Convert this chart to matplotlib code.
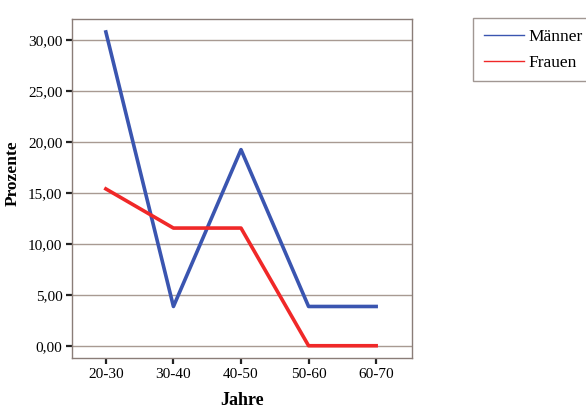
import matplotlib
matplotlib.use("Agg")
import matplotlib.pyplot as plt
from matplotlib.lines import Line2D

# Data
categories = ["20-30", "30-40", "40-50", "50-60", "60-70"]
maenner = [30.77, 3.85, 19.23, 3.85, 3.85]
frauen = [15.38, 11.54, 11.54, 0.0, 0.0]
y_ticks = [0, 5, 10, 15, 20, 25, 30]

plt.rcParams["font.family"] = ["Liberation Serif", "DejaVu Serif"]

fig = plt.figure(figsize=(5.86, 4.11), dpi=100)
ax = fig.add_axes([0.123, 0.129, 0.580, 0.825])

blue = "#3a55b0"
red = "#f02828"
x = range(len(categories))
ax.plot(x, maenner, color=blue, linewidth=2.6)
ax.plot(x, frauen, color=red, linewidth=2.6)

ax.set_xlim(-0.5, 4.53)
ax.set_ylim(-1.2, 32.05)
ax.set_xticks(list(x))
ax.set_xticklabels(categories, fontsize=11)
ax.set_yticks(y_ticks)
ax.set_yticklabels([f"{v:.2f}".replace(".", ",") for v in y_ticks], fontsize=11)

ax.grid(axis="y", color="#a89a92", linewidth=1.0)
ax.set_axisbelow(True)
for side in ax.spines.values():
    side.set_color("#8a7d78")
    side.set_linewidth(1.0)
ax.tick_params(axis="both", direction="out", length=4, width=1.6, color="#222222", pad=3)

ax.set_ylabel("Prozente", fontsize=12.5, fontweight="bold")
ax.yaxis.set_label_coords(-0.15, 0.545)
ax.set_xlabel("Jahre", fontsize=13, fontweight="bold", labelpad=8)

# legend with thin line handles, like the reference
handles = [Line2D([], [], color=blue, linewidth=1.0),
           Line2D([], [], color=red, linewidth=1.0)]
fig.legend(handles, ["Männer", "Frauen"], loc="upper left",
           bbox_to_anchor=(473 / 586, 1 - 18 / 411), frameon=True,
           fancybox=False, edgecolor="#8a7d78", fontsize=12.5,
           handlelength=2.3, handletextpad=0.3, borderpad=0.62,
           borderaxespad=0, labelspacing=0.55)

fig.savefig("out.png", dpi=100)
